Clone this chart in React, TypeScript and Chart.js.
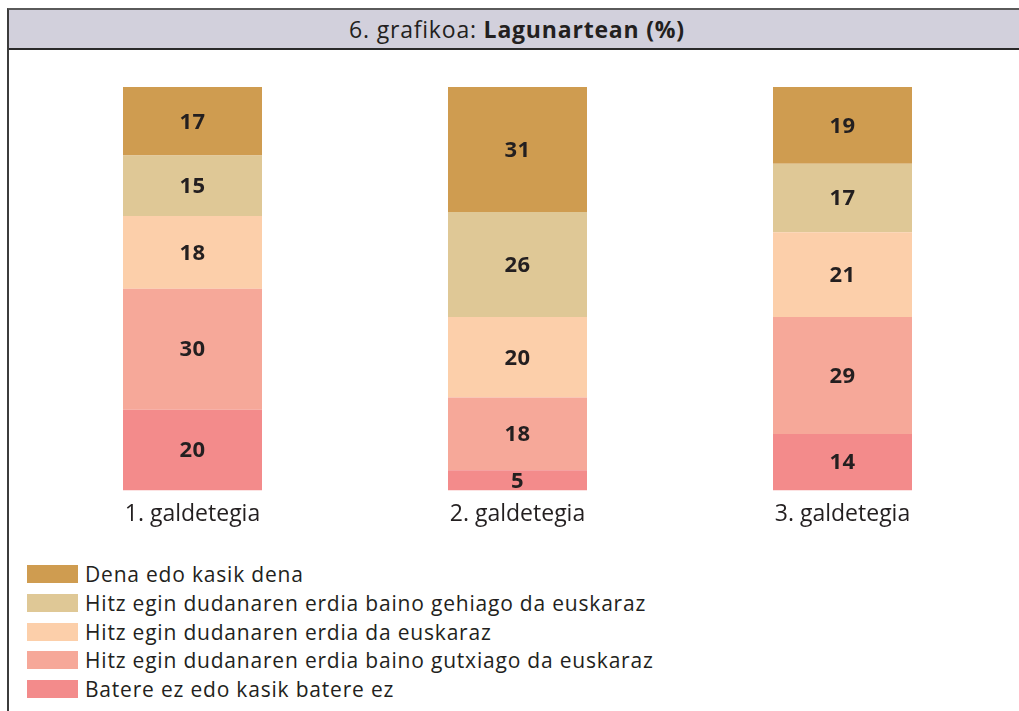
import React, { useEffect, useRef } from "react";
import { Chart, registerables } from "chart.js";

Chart.register(...registerables);

const categories = ["1. galdetegia", "2. galdetegia", "3. galdetegia"];

const seriesNames = [
  "Batere ez edo kasik batere ez",
  "Hitz egin dudanaren erdia baino gutxiago da euskaraz",
  "Hitz egin dudanaren erdia da euskaraz",
  "Hitz egin dudanaren erdia baino gehiago da euskaraz",
  "Dena edo kasik dena",
];

const batere = [20, 5, 14];
const gutxiago = [30, 18, 29];
const erdia = [18, 20, 21];
const gehiago = [15, 26, 17];
const dena = [17, 31, 19];

const seriesValues = [batere, gutxiago, erdia, gehiago, dena];

const seriesColors = ["#f38b8b", "#f6a899", "#fccfaa", "#dfc896", "#cf9c50"];

const titleNormal = "6. grafikoa: ";
const titleBold = "Lagunartean (%)";

const FONT = "'Open Sans', sans-serif";
const TEXT = "#231f20";

const valueLabels = {
  id: "valueLabels",
  afterDatasetsDraw(chart: any) {
    const ctx = chart.ctx;
    ctx.save();
    ctx.font = `bold 22px ${FONT}`;
    ctx.fillStyle = TEXT;
    ctx.textAlign = "center";
    ctx.textBaseline = "middle";
    try { ctx.letterSpacing = "0.5px"; } catch (e) {}
    chart.data.datasets.forEach((ds: any, di: number) => {
      const meta = chart.getDatasetMeta(di);
      meta.data.forEach((el: any, i: number) => {
        const v = ds.data[i];
        const { x, y, base } = el.getProps(["x", "y", "base"], true);
        ctx.fillText(String(v), x, (y + base) / 2 + 1);
      });
    });
    ctx.restore();
  },
};

export default function App() {
  const ref = useRef<HTMLCanvasElement>(null);

  useEffect(() => {
    if (!ref.current) return;
    const chart = new Chart(ref.current, {
      type: "bar",
      data: {
        labels: categories,
        datasets: seriesNames.map((name, i) => ({
          label: name,
          data: seriesValues[i],
          backgroundColor: seriesColors[i],
          borderWidth: 0,
          categoryPercentage: 1,
          barPercentage: 139 / 325,
        })),
      },
      options: {
        animation: false,
        responsive: false,
        devicePixelRatio: 1,
        layout: { padding: { left: 30, right: 14, top: 87, bottom: 22 } },
        plugins: {
          legend: { display: false },
          tooltip: { enabled: false },
          title: { display: false },
        },
        scales: {
          x: {
            stacked: true,
            grid: { display: false, drawTicks: false },
            border: { display: false },
            ticks: {
              color: TEXT,
              font: { family: FONT, size: 23 },
              padding: 10,
            },
          },
          y: {
            stacked: true,
            display: false,
            min: 0,
            max: 100,
          },
        },
      },
      plugins: [valueLabels],
    });
    return () => chart.destroy();
  }, []);

  const legendItems = seriesNames
    .map((name, i) => ({ name, color: seriesColors[i] }))
    .reverse();

  return (
    <div
      style={{
        position: "absolute",
        left: 0,
        top: 0,
        width: 1019,
        height: 711,
        overflow: "hidden",
        background: "#ffffff",
        fontFamily: FONT,
        color: TEXT,
      }}
    >
      <div
        style={{
          position: "absolute",
          left: 7,
          top: 8,
          width: 1100,
          height: 800,
          borderTop: "2px solid #5a5a5a",
          borderLeft: "2px solid #3c3c3c",
          boxSizing: "border-box",
        }}
      />
      <div
        style={{
          position: "absolute",
          left: 9,
          top: 10,
          width: 1100,
          height: 38,
          background: "#d2d0dc",
          borderBottom: "2px solid #2a2a2a",
        }}
      />
      <div
        style={{
          position: "absolute",
          left: 217,
          top: 10,
          width: 600,
          height: 38,
          lineHeight: "38px",
          textAlign: "center",
          fontSize: 23,
          letterSpacing: "0.8px",
          whiteSpace: "nowrap",
        }}
      >
        <span>{titleNormal}</span>
        <span style={{ fontWeight: 700 }}>{titleBold}</span>
      </div>
      <canvas
        ref={ref}
        width={1019}
        height={560}
        style={{ position: "absolute", left: 0, top: 0, width: 1019, height: 560 }}
      />
      <div style={{ position: "absolute", left: 27, top: 565 }}>
        {legendItems.map((it) => (
          <div
            key={it.name}
            style={{ display: "flex", alignItems: "center", height: 18, marginBottom: 10.75, whiteSpace: "nowrap" }}
          >
            <div style={{ width: 51, height: 18, background: it.color, marginRight: 7 }} />
            <span style={{ fontSize: 21, lineHeight: "18px", letterSpacing: "0.8px" }}>{it.name}</span>
          </div>
        ))}
      </div>
    </div>
  );
}
